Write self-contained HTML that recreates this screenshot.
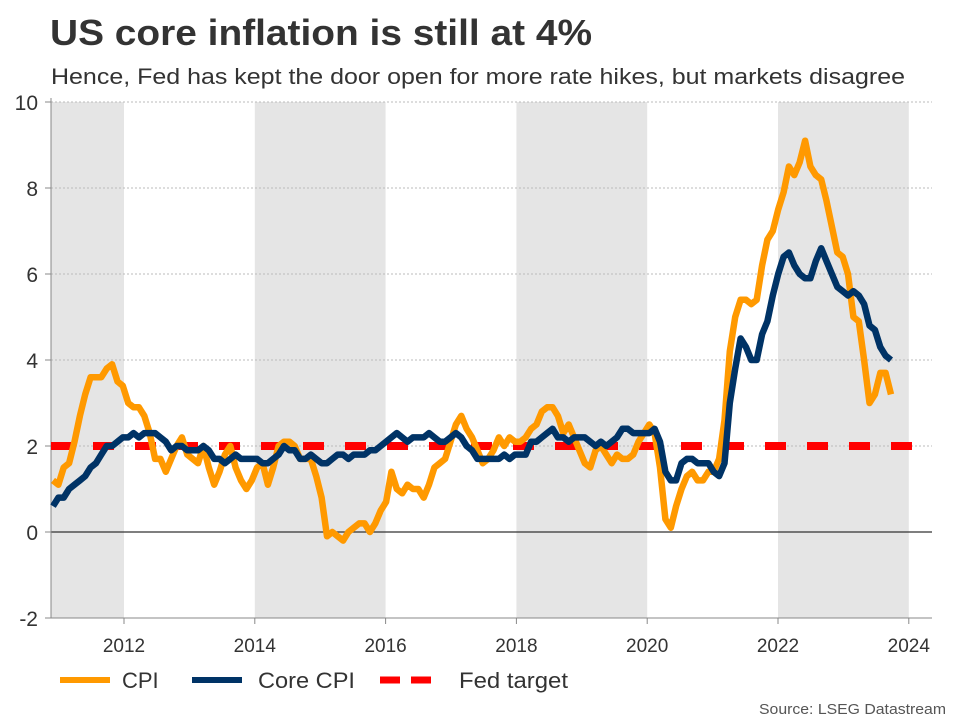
<!DOCTYPE html>
<html><head><meta charset="utf-8">
<style>
body{margin:0;background:#fff;font-family:"Liberation Sans",Arial,sans-serif;}
#wrap{position:relative;width:960px;height:720px;overflow:hidden;}
</style></head>
<body>
<div id="wrap">
<svg id="chart" width="960" height="720">
<text x="50" y="45" font-size="36" font-weight="bold" fill="#333" textLength="542" lengthAdjust="spacingAndGlyphs">US core inflation is still at 4%</text>
<text x="51" y="84" font-size="22" fill="#333" textLength="854" lengthAdjust="spacingAndGlyphs">Hence, Fed has kept the door open for more rate hikes, but markets disagree</text>
<g id="bands"></g><g id="grid"></g><g id="axes"></g><g id="series"></g>
<g>
<g><line x1="60" y1="680" x2="110" y2="680" stroke="#ff9900" stroke-width="6"/><text x="122" y="688" font-size="22" fill="#333">CPI</text></g>
<g><line x1="192" y1="680" x2="242" y2="680" stroke="#003366" stroke-width="6"/><text x="258" y="688" font-size="22" fill="#333" textLength="97" lengthAdjust="spacingAndGlyphs">Core CPI</text></g>
<g><line x1="380" y1="680" x2="442" y2="680" stroke="#ff0000" stroke-width="7" stroke-dasharray="20,11"/><text x="459" y="688" font-size="22" fill="#333" textLength="109" lengthAdjust="spacingAndGlyphs">Fed target</text></g>
</g>
<text x="946" y="714" font-size="15" fill="#555" text-anchor="end" textLength="187" lengthAdjust="spacingAndGlyphs">Source: LSEG Datastream</text>
</svg>
</div>
<script>
const yTicks=[-2,0,2,4,6,8,10];
const xTickYears=[2012,2014,2016,2018,2020,2022,2024];
const shadedPeriods=[[2010.88,2012],[2014,2016],[2018,2020],[2022,2024]];
const fedTarget=2;
const cpi=[1.2,1.1,1.5,
1.6,2.1,2.7,3.2,3.6,3.6,3.6,3.8,3.9,3.5,3.4,3.0,
2.9,2.9,2.7,2.3,1.7,1.7,1.4,1.7,2.0,2.2,1.8,1.7,
1.6,2.0,1.5,1.1,1.4,1.8,2.0,1.5,1.2,1.0,1.2,1.5,
1.6,1.1,1.5,2.0,2.1,2.1,2.0,1.7,1.7,1.7,1.3,0.8,
-0.1,0.0,-0.1,-0.2,0.0,0.1,0.2,0.2,0.0,0.2,0.5,0.7,
1.4,1.0,0.9,1.1,1.0,1.0,0.8,1.1,1.5,1.6,1.7,2.1,
2.5,2.7,2.4,2.2,1.9,1.6,1.7,1.9,2.2,2.0,2.2,2.1,
2.1,2.2,2.4,2.5,2.8,2.9,2.9,2.7,2.3,2.5,2.2,1.9,
1.6,1.5,1.9,2.0,1.8,1.6,1.8,1.7,1.7,1.8,2.1,2.3,
2.5,2.3,1.5,0.3,0.1,0.6,1.0,1.3,1.4,1.2,1.2,1.4,
1.4,1.7,2.6,4.2,5.0,5.4,5.4,5.3,5.4,6.2,6.8,7.0,
7.5,7.9,8.5,8.3,8.6,9.1,8.5,8.3,8.2,7.7,7.1,6.5,
6.4,6.0,5.0,4.9,4.0,3.0,3.2,3.7,3.7,3.2];
const coreCpi=[0.6,0.8,0.8,
1.0,1.1,1.2,1.3,1.5,1.6,1.8,2.0,2.0,2.1,2.2,2.2,
2.3,2.2,2.3,2.3,2.3,2.2,2.1,1.9,2.0,2.0,1.9,1.9,
1.9,2.0,1.9,1.7,1.7,1.6,1.7,1.8,1.7,1.7,1.7,1.7,
1.6,1.6,1.7,1.8,2.0,1.9,1.9,1.7,1.7,1.8,1.7,1.6,
1.6,1.7,1.8,1.8,1.7,1.8,1.8,1.8,1.9,1.9,2.0,2.1,
2.2,2.3,2.2,2.1,2.2,2.2,2.2,2.3,2.2,2.1,2.1,2.2,
2.3,2.2,2.0,1.9,1.7,1.7,1.7,1.7,1.7,1.8,1.7,1.8,
1.8,1.8,2.1,2.1,2.2,2.3,2.4,2.2,2.2,2.1,2.2,2.2,
2.2,2.1,2.0,2.1,2.0,2.1,2.2,2.4,2.4,2.3,2.3,2.3,
2.3,2.4,2.1,1.4,1.2,1.2,1.6,1.7,1.7,1.6,1.6,1.6,
1.4,1.3,1.6,3.0,3.8,4.5,4.3,4.0,4.0,4.6,4.9,5.5,
6.0,6.4,6.5,6.2,6.0,5.9,5.9,6.3,6.6,6.3,6.0,5.7,
5.6,5.5,5.6,5.5,5.3,4.8,4.7,4.3,4.1,4.0];

const NS="http://www.w3.org/2000/svg";
const L=51,R=932,T=102,B=618;
const y=v=>532-v*43;
const x=t=>124+(t-2012)*65.4;
const xi=i=>53+i*(891-53)/(cpi.length-1);
function mk(tag,attrs,parent){const e=document.createElementNS(NS,tag);for(const k in attrs)e.setAttribute(k,attrs[k]);parent.appendChild(e);return e;}
const bands=document.getElementById('bands'),grid=document.getElementById('grid'),axes=document.getElementById('axes'),ser=document.getElementById('series');
shadedPeriods.forEach(p=>{
 const r=mk('rect',{x:Math.max(L,x(p[0])),y:T,width:x(p[1])-Math.max(L,x(p[0])),height:B-T,fill:'#e5e5e5'},bands);
 
 
});
yTicks.forEach(v=>{
 const g=mk('line',{x1:L,x2:R,y1:y(v),y2:y(v),stroke:v===0?'#333':'#bbb','stroke-width':v===0?1.2:1,'stroke-dasharray':v===0?'':'2,2'},grid);
 
 
 mk('line',{x1:L-6,x2:L,y1:y(v),y2:y(v),stroke:'#888'},axes);
 const t=mk('text',{x:38,y:y(v)+8,'font-size':21,'text-anchor':'end',fill:'#333'},axes);
 t.textContent=v;
 
 
});
mk('line',{x1:L,x2:L,y1:T-4,y2:B,stroke:'#888'},axes);
mk('line',{x1:L,x2:R,y1:B,y2:B,stroke:'#888'},axes);
xTickYears.forEach(yr=>{
 mk('line',{x1:x(yr),x2:x(yr),y1:B,y2:B+6,stroke:'#888'},axes);
 const t=mk('text',{x:x(yr),y:B+34,'font-size':19,'text-anchor':'middle',fill:'#333'},axes);
 t.textContent=yr;
 
 
});
const ft=mk('line',{x1:L,x2:912,y1:y(fedTarget),y2:y(fedTarget),stroke:'#ff0000','stroke-width':8,'stroke-dasharray':'21,21'},ser);


function line(arr,col,name){
 const p=mk('polyline',{points:arr.map((v,i)=>xi(i).toFixed(1)+','+y(v).toFixed(1)).join(' '),fill:'none',stroke:col,'stroke-width':6.5,'stroke-linejoin':'round'},ser);
 
 
}
line(cpi,'#ff9900','cpi-line');
line(coreCpi,'#003366','core-cpi-line');
</script>
</body></html>
